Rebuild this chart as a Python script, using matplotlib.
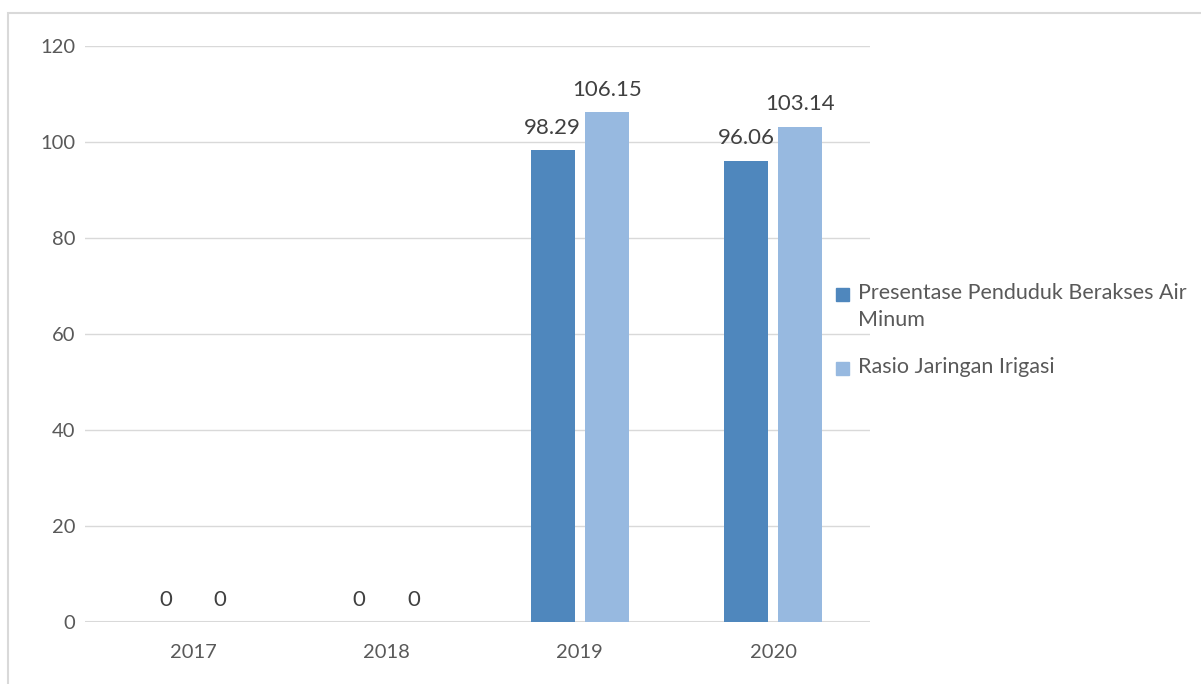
import matplotlib.pyplot as plt
import numpy as np
from matplotlib.patches import Rectangle

years = ["2017", "2018", "2019", "2020"]
air_minum = [0, 0, 98.29, 96.06]
irigasi = [0, 0, 106.15, 103.14]
series_names = ["Presentase Penduduk Berakses Air\nMinum", "Rasio Jaringan Irigasi"]

dark_blue = "#4F87BD"
light_blue = "#97B9E0"
text_grey = "#595959"
grid_grey = "#D9D9D9"

plt.rcParams["font.family"] = ["Lato", "DejaVu Sans"]

W, H = 1201, 684
fig = plt.figure(figsize=(W / 100, H / 100), dpi=100)

# light frame round the chart
fig.patches.append(Rectangle((8 / W, -0.05), 1.1, 1 - 13 / H + 0.05,
                             transform=fig.transFigure, fill=False,
                             edgecolor=grid_grey, linewidth=1.5))

ax = fig.add_axes([85 / W, 1 - 622 / H, 785 / W, 576 / H])

x = np.arange(len(years))
w = 0.227
off = 0.14
b1 = ax.bar(x - off, air_minum, w, color=dark_blue, zorder=3)
b2 = ax.bar(x + off, irigasi, w, color=light_blue, zorder=3)

for bars, vals in ((b1, air_minum), (b2, irigasi)):
    for rect, v in zip(bars, vals):
        ax.annotate(f"{v:g}", (rect.get_x() + rect.get_width() / 2, v),
                    xytext=(0, 9), textcoords="offset points",
                    ha="center", va="bottom", fontsize=16, color="#404040")

ax.set_xlim(-0.558, 3.5)
ax.set_ylim(0, 120)
ax.set_yticks(range(0, 121, 20))
ax.set_xticks(x)
ax.set_xticklabels(years)
ax.tick_params(axis="both", length=0, labelsize=14.5, colors=text_grey)
ax.tick_params(axis="x", pad=16)
ax.tick_params(axis="y", pad=7)
ax.grid(axis="y", color=grid_grey, linewidth=1, zorder=0)
for s in ax.spines.values():
    s.set_visible(False)
ax.axhline(0, color=grid_grey, linewidth=1.5, zorder=2)

# legend on the right, square level with the first text line
sq = 13
for name, col, yc in zip(series_names, [dark_blue, light_blue], [294, 368]):
    fig.patches.append(Rectangle((836 / W, 1 - (yc + sq / 2) / H), sq / W, sq / H,
                                 transform=fig.transFigure, color=col))
    fig.text(858 / W, 1 - (yc - 11) / H, name, ha="left", va="top",
             fontsize=15.5, color=text_grey, linespacing=1.45)

fig.savefig("out.png", dpi=100)
